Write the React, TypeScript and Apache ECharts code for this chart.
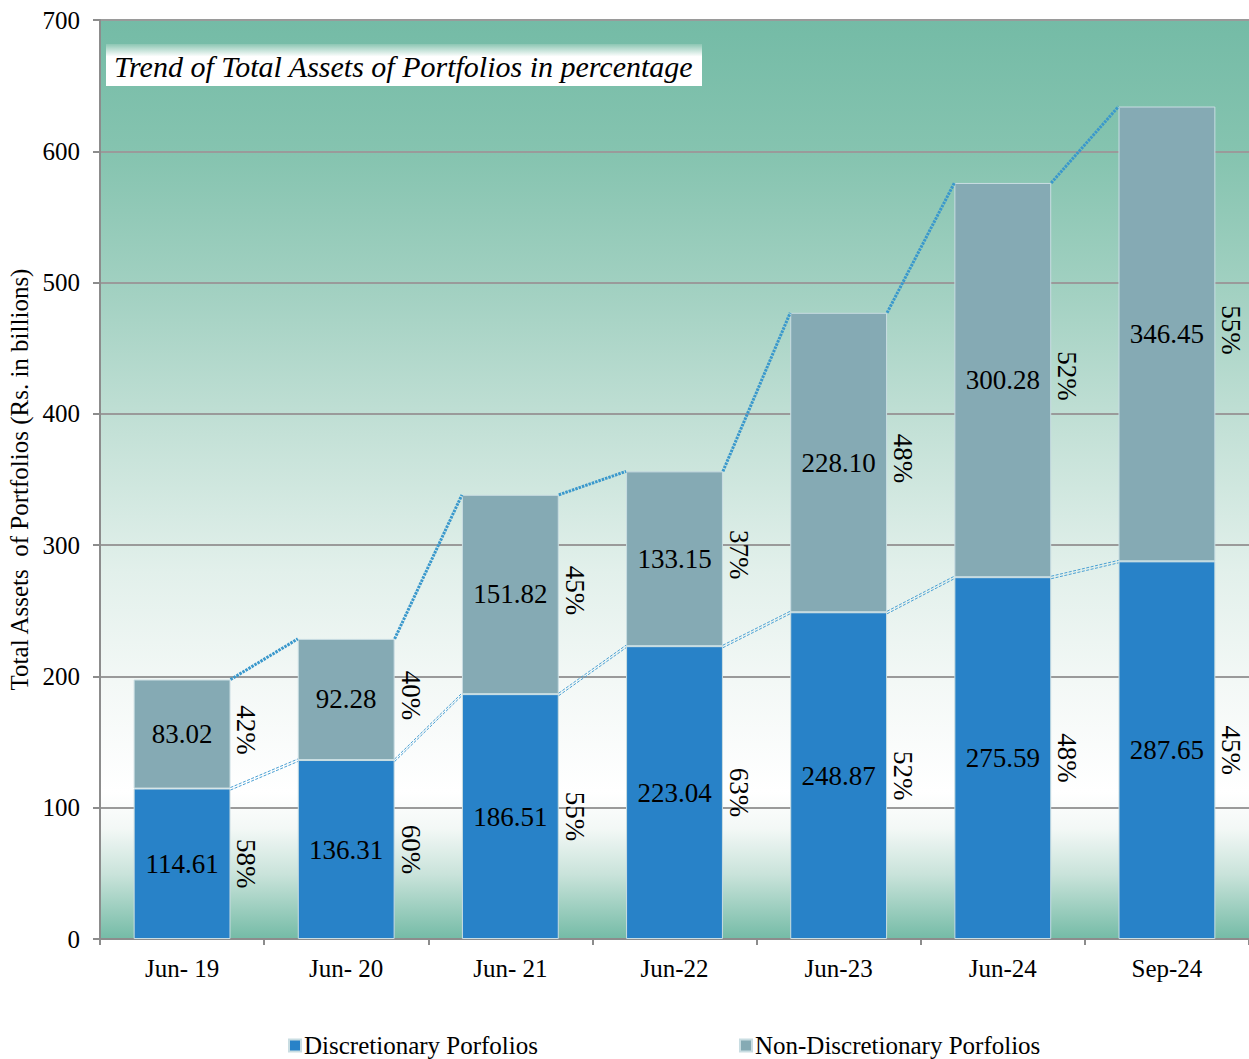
import React, { useEffect, useRef } from "react";
import * as echarts from "echarts";

const categories = ["Jun- 19", "Jun- 20", "Jun- 21", "Jun-22", "Jun-23", "Jun-24", "Sep-24"];
const discretionary = [114.61, 136.31, 186.51, 223.04, 248.87, 275.59, 287.65];
const nonDiscretionary = [83.02, 92.28, 151.82, 133.15, 228.1, 300.28, 346.45];
const discPct = ["58%", "60%", "55%", "63%", "52%", "48%", "45%"];
const nonDiscPct = ["42%", "40%", "45%", "37%", "48%", "52%", "55%"];
const yMin = 0;
const yMax = 700;
const yStep = 100;

const FONT = "Liberation Serif";
const BAR_FRAC = 0.59;

export default function App() {
  const ref = useRef<HTMLDivElement>(null);
  useEffect(() => {
    if (!ref.current) return;
    const chart = echarts.init(ref.current, null, { renderer: "svg" });

    const totals = discretionary.map((d, i) => d + nonDiscretionary[i]);
    const lineData = categories.slice(0, -1).map((_, i) => [
      i,
      discretionary[i],
      totals[i],
      discretionary[i + 1],
      totals[i + 1],
    ]);
    const pctData = categories.map((_, i) => [i, discretionary[i], totals[i]]);

    const option: any = {
      animation: false,
      textStyle: { fontFamily: FONT },
      grid: {
        left: 100,
        top: 20,
        right: 0,
        bottom: 120,
        outerBoundsMode: "none",
        containLabel: false,
        show: true,
        borderWidth: 0,
        backgroundColor: new echarts.graphic.LinearGradient(0, 0, 0, 1, [
          { offset: 0, color: "#74bba6" },
          { offset: 0.15, color: "#86c4b0" },
          { offset: 0.3, color: "#a3d1c2" },
          { offset: 0.45, color: "#c4e1d7" },
          { offset: 0.6, color: "#e2f0eb" },
          { offset: 0.72, color: "#f3f8f6" },
          { offset: 0.84, color: "#ffffff" },
          { offset: 0.88, color: "#f3f8f6" },
          { offset: 0.93, color: "#c9e3da" },
          { offset: 1, color: "#74bba6" },
        ]),
      },
      legend: {
        left: 283,
        top: 1028,
        itemGap: 201,
        itemWidth: 12,
        itemHeight: 12,
        icon: "rect",
        data: ["Discretionary Porfolios", "Non-Discretionary Porfolios"],
        textStyle: {
          fontFamily: FONT,
          fontSize: 25,
          lineHeight: 24,
          color: "#000",
          padding: [0, 0, 0, -2],
        },
      },
      graphic: [
        {
          type: "group",
          left: 106,
          top: 44,
          children: [
            {
              type: "rect",
              shape: { x: 0, y: 0, width: 596, height: 42 },
              style: {
                fill: new echarts.graphic.LinearGradient(0, 0, 0, 1, [
                  { offset: 0, color: "#8cc6b3" },
                  { offset: 0.3, color: "#ffffff" },
                  { offset: 1, color: "#ffffff" },
                ]),
              },
            },
            {
              type: "text",
              x: 8,
              y: 22,
              style: {
                text: "Trend of Total Assets of Portfolios in percentage",
                fontFamily: FONT,
                fontStyle: "italic",
                fontSize: 30,
                fill: "#000",
                verticalAlign: "middle",
              },
            },
          ],
        },
      ],
      xAxis: {
        type: "category",
        data: categories,
        axisLine: { lineStyle: { color: "#8c8c8c", width: 2 } },
        axisTick: { show: true, length: 6, lineStyle: { color: "#8c8c8c", width: 2 } },
        axisLabel: { fontFamily: FONT, fontSize: 25, color: "#000", margin: 17 },
      },
      yAxis: {
        type: "value",
        min: yMin,
        max: yMax,
        interval: yStep,
        name: "Total Assets  of Portfolios (Rs. in billions)",
        nameLocation: "middle",
        nameGap: 66,
        nameTextStyle: { fontFamily: FONT, fontSize: 25, color: "#000" },
        axisLine: { show: true, lineStyle: { color: "#8c8c8c", width: 2 } },
        axisTick: { show: true, length: 7, lineStyle: { color: "#8c8c8c", width: 2 } },
        axisLabel: { fontFamily: FONT, fontSize: 25, color: "#000", margin: 20 },
        splitLine: { lineStyle: { color: "#9a9a9a", width: 2 } },
      },
      series: [
        {
          name: "Discretionary Porfolios",
          type: "bar",
          stack: "total",
          barWidth: BAR_FRAC * 100 + "%",
          data: discretionary,
          itemStyle: { color: "#2882c8", borderColor: "#c9dde2", borderWidth: 1 },
          label: {
            show: true,
            position: "inside",
            formatter: (p: any) => Number(p.value).toFixed(2),
            fontFamily: FONT,
            fontSize: 27,
            color: "#000",
          },
          z: 2,
        },
        {
          name: "Non-Discretionary Porfolios",
          type: "bar",
          stack: "total",
          barWidth: BAR_FRAC * 100 + "%",
          data: nonDiscretionary,
          itemStyle: { color: "#85aab4", borderColor: "#c9dde2", borderWidth: 1 },
          label: {
            show: true,
            position: "inside",
            formatter: (p: any) => Number(p.value).toFixed(2),
            fontFamily: FONT,
            fontSize: 27,
            color: "#000",
          },
          z: 2,
        },
        {
          name: "connectors",
          type: "custom",
          silent: true,
          z: 3,
          encode: { x: 0, y: 1 },
          data: lineData,
          renderItem: (_params: any, api: any) => {
            const i = api.value(0);
            const bw = api.size([1, 0])[0] * BAR_FRAC;
            const a1 = api.coord([i, api.value(1)]);
            const b1 = api.coord([i + 1, api.value(3)]);
            const a2 = api.coord([i, api.value(2)]);
            const b2 = api.coord([i + 1, api.value(4)]);
            const x1 = a1[0] + bw / 2;
            const x2 = b1[0] - bw / 2;
            const thin = {
              stroke: "#4aa0d4",
              lineWidth: 1,
              lineDash: [3, 1.5],
            };
            return {
              type: "group",
              children: [
                {
                  type: "line",
                  shape: { x1, y1: a1[1] - 1, x2, y2: b1[1] - 1 },
                  style: thin,
                },
                {
                  type: "line",
                  shape: { x1, y1: a1[1] + 1.5, x2, y2: b1[1] + 1.5 },
                  style: thin,
                },
                {
                  type: "line",
                  shape: { x1, y1: a2[1], x2, y2: b2[1] },
                  style: { stroke: "#3a98cc", lineWidth: 3, lineDash: [2.5, 1] },
                },
              ],
            };
          },
        },
        {
          name: "pct",
          type: "custom",
          silent: true,
          z: 4,
          encode: { x: 0, y: 1 },
          data: pctData,
          renderItem: (_params: any, api: any) => {
            const i = api.value(0);
            const d = api.value(1);
            const t = api.value(2);
            const bw = api.size([1, 0])[0] * BAR_FRAC;
            const p1 = api.coord([i, d / 2]);
            const p2 = api.coord([i, (d + t) / 2]);
            const x = p1[0] + bw / 2 + 16;
            const st = (text: string) => ({
              text,
              fontFamily: FONT,
              fontSize: 27,
              fill: "#000",
              align: "center",
              verticalAlign: "middle",
            });
            return {
              type: "group",
              children: [
                { type: "text", x, y: p1[1], rotation: -Math.PI / 2, style: st(discPct[i]) },
                { type: "text", x, y: p2[1] - 4, rotation: -Math.PI / 2, style: st(nonDiscPct[i]) },
              ],
            };
          },
        },
      ],
    };

    chart.setOption(option);
    return () => chart.dispose();
  }, []);

  return (
    <div
      ref={ref}
      style={{ position: "absolute", left: 0, top: 0, width: 1249, height: 1059, background: "#fff" }}
    />
  );
}
